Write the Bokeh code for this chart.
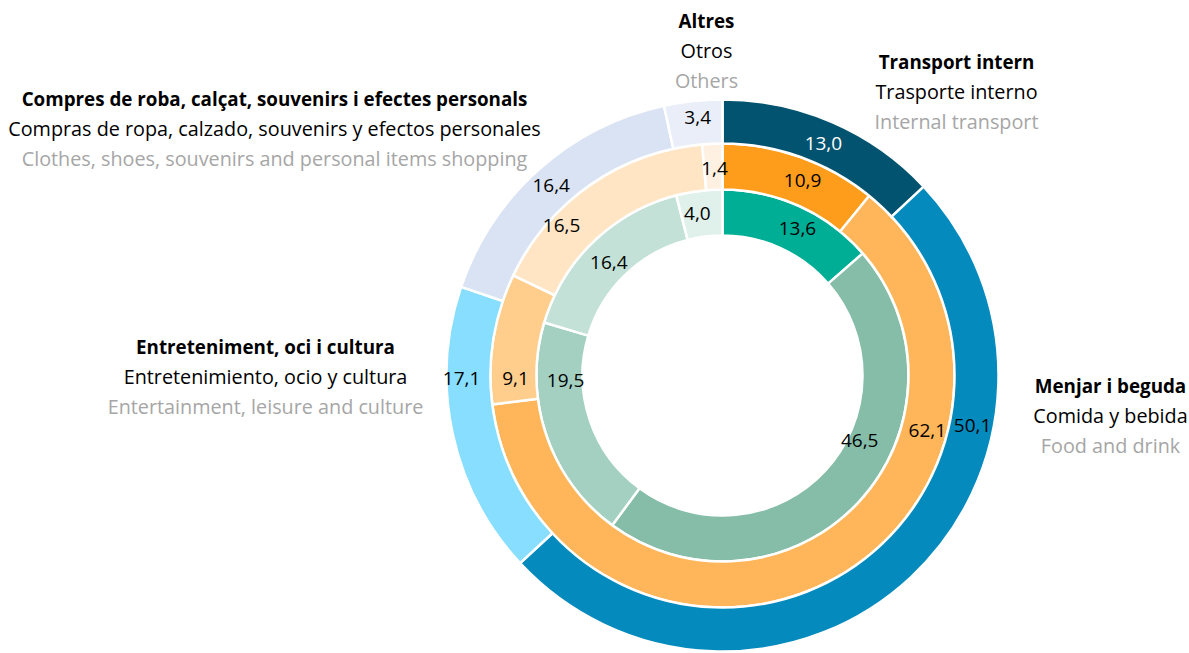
import math
from bokeh.plotting import figure
from bokeh.models import Range1d, ColumnDataSource
from bokeh.core.properties import value
from bokeh.embed import file_html
from bokeh.resources import INLINE

# ---------------- data ----------------
categories = ["Transport intern", "Menjar i beguda", "Entreteniment, oci i cultura",
              "Compres de roba, calçat, souvenirs i efectes personals", "Altres"]
outer_values = [13.0, 50.1, 17.1, 16.4, 3.4]
middle_values = [10.9, 62.1, 9.1, 16.5, 1.4]
inner_values = [13.6, 46.5, 19.5, 16.4, 4.0]

titles_ca = ["Transport intern", "Menjar i beguda", "Entreteniment, oci i cultura",
             "Compres de roba, calçat, souvenirs i efectes personals", "Altres"]
titles_es = ["Trasporte interno", "Comida y bebida", "Entretenimiento, ocio y cultura",
             "Compras de ropa, calzado, souvenirs y efectos personales", "Otros"]
titles_en = ["Internal transport", "Food and drink", "Entertainment, leisure and culture",
             "Clothes, shoes, souvenirs and personal items shopping", "Others"]

# ---------------- style / layout ----------------
outer_colors = ["#02536F", "#058ABD", "#87DEFF", "#DAE3F3", "#E9EEF8"]
middle_colors = ["#FD9D1B", "#FFB65A", "#FFCE8D", "#FFE5C4", "#FFF1E1"]
inner_colors = ["#00AE96", "#86BDA9", "#A3D0C1", "#C3E1D6", "#E0F0EA"]
outer_text_colors = ["white", "black", "black", "black", "black"]

W, H = 1189, 653
def py(y_pix):  # page-pixel y -> data y
    return H - y_pix

CX, CY = 722, py(375)
rings = [  # (values, colors, r_in, r_out)
    (inner_values, inner_colors, 140, 186),
    (middle_values, middle_colors, 186, 232),
    (outer_values, outer_colors, 232, 276),
]
# label placement (clockwise degrees from top, radius)
outer_lab = [(23.5, 253), (101.3, 255), (269.3, 261), (318, 256), (354.5, 259)]
middle_lab = [(22.3, 211), (105, 212), (269.2, 207), (313, 220), (357.8, 207)]
inner_lab = [(27, 165), (115.5, 152), (268.2, 157), (314.7, 160), (351.2, 164)]

FONT = "Open Sans"
FS_VAL = "19px"
FS_BOLD = "18.8px"
FS_REG = "19.8px"

p = figure(width=W, height=H, output_backend="svg", toolbar_location=None,
           x_range=Range1d(0, W), y_range=Range1d(0, H),
           x_axis_type=None, y_axis_type=None, min_border=0)
p.grid.visible = False
p.outline_line_color = None
p.background_fill_color = "white"
p.border_fill_color = "white"

for vals, cols, r0, r1 in rings:
    tot = sum(vals)
    cum = 0.0
    starts, ends = [], []
    for v in vals:
        starts.append(math.pi / 2 - 2 * math.pi * cum / tot)
        cum += v
        ends.append(math.pi / 2 - 2 * math.pi * cum / tot)
    src = ColumnDataSource(dict(x=[CX] * len(vals), y=[CY] * len(vals),
                                s=starts, e=ends, c=cols))
    p.annular_wedge(x="x", y="y", inner_radius=r0, outer_radius=r1,
                    start_angle="s", end_angle="e", direction="clock",
                    fill_color="c", line_color="white", line_width=2.5, source=src)

def fmt(v):
    return ("%.1f" % v).replace(".", ",")

for vals, labs, tcols in [(outer_values, outer_lab, outer_text_colors),
                          (middle_values, middle_lab, ["black"] * 5),
                          (inner_values, inner_lab, ["black"] * 5)]:
    xs = [CX + r * math.sin(math.radians(a)) for a, r in labs]
    ys = [CY + r * math.cos(math.radians(a)) for a, r in labs]
    src = ColumnDataSource(dict(x=xs, y=ys, t=[fmt(v) for v in vals], c=tcols))
    p.text(x="x", y="y", text="t", text_color="c", source=src,
           text_align="center", text_baseline="middle",
           text_font=value(FONT), text_font_size=FS_VAL)

# category titles: center x, baseline y (page pixels) of first line
title_pos = [(956, 61), (1110, 385), (265, 346), (274, 98), (706, 20)]
LS = 29.8
for i in range(len(categories)):
    x0, y0 = title_pos[i]
    for j, (txt, col, st, fs) in enumerate([(titles_ca[i], "black", "bold", FS_BOLD),
                                            (titles_es[i], "black", "normal", FS_REG),
                                            (titles_en[i], "#A6A6A6", "normal", FS_REG)]):
        p.text(x=[x0], y=[py(y0 + j * LS)], text=[txt], text_color=col,
               text_font_style=st, text_align="center", text_baseline="alphabetic",
               text_font=value(FONT), text_font_size=fs)

open("out.html", "w").write(file_html(p, INLINE))
